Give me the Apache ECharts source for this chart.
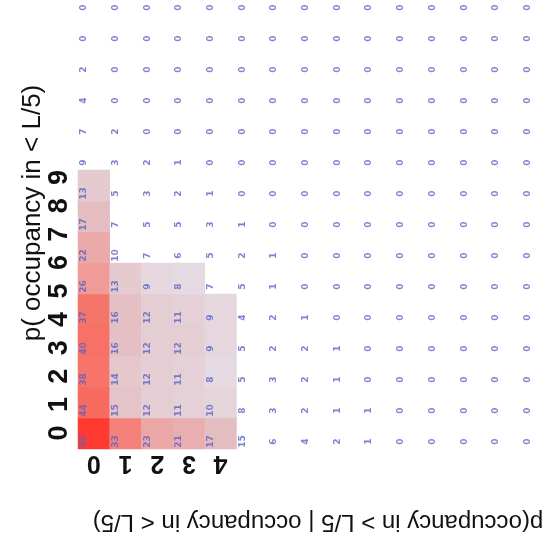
<!DOCTYPE html>
<html>
<head>
<meta charset="utf-8">
<script src="https://cdn.jsdelivr.net/npm/echarts@6/dist/echarts.min.js"></script>
<style>
  html, body { margin: 0; padding: 0; background: #fff; }
  #chart { width: 551px; height: 544px; }
</style>
</head>
<body>
<div id="chart"></div>
<script>
// columns / rows of the count grid (row 0 = bottom)
const colCats = ['0', '1', '2', '3', '4', '5', '6', '7', '8', '9', '10', '11', '12', '13', '14']
const rowCats = ['0', '1', '2', '3', '4', '5', '6', '7', '8', '9', '10', '11', '12', '13', '14']

// counts read row by row, bottom row first
const row0 = [55, 33, 23, 21, 17, 15, 6, 4, 2, 1, 0, 0, 0, 0, 0]
const row1 = [44, 15, 12, 11, 10, 8, 3, 2, 1, 1, 0, 0, 0, 0, 0]
const row2 = [38, 14, 12, 11, 8, 5, 3, 2, 1, 0, 0, 0, 0, 0, 0]
const row3 = [40, 16, 12, 12, 9, 5, 2, 2, 1, 0, 0, 0, 0, 0, 0]
const row4 = [37, 16, 12, 11, 9, 4, 2, 1, 0, 0, 0, 0, 0, 0, 0]
const row5 = [26, 13, 9, 8, 7, 5, 1, 0, 0, 0, 0, 0, 0, 0, 0]
const row6 = [22, 10, 7, 6, 5, 2, 1, 0, 0, 0, 0, 0, 0, 0, 0]
const row7 = [17, 7, 5, 5, 3, 1, 0, 0, 0, 0, 0, 0, 0, 0, 0]
const row8 = [13, 5, 3, 2, 1, 0, 0, 0, 0, 0, 0, 0, 0, 0, 0]
const row9 = [9, 3, 2, 1, 0, 0, 0, 0, 0, 0, 0, 0, 0, 0, 0]
const row10 = [7, 2, 0, 0, 0, 0, 0, 0, 0, 0, 0, 0, 0, 0, 0]
const row11 = [4, 0, 0, 0, 0, 0, 0, 0, 0, 0, 0, 0, 0, 0, 0]
const row12 = [2, 0, 0, 0, 0, 0, 0, 0, 0, 0, 0, 0, 0, 0, 0]
const row13 = [0, 0, 0, 0, 0, 0, 0, 0, 0, 0, 0, 0, 0, 0, 0]
const row14 = [0, 0, 0, 0, 0, 0, 0, 0, 0, 0, 0, 0, 0, 0, 0]
const rows = [row0, row1, row2, row3, row4, row5, row6, row7, row8, row9, row10, row11, row12, row13, row14]

// how many rows (from the bottom) are shaded in each of the first columns
const shadeDepth = [9, 6, 6, 6, 5]

const xTickLabels = ['0', '1', '2', '3', '4']
const yTickLabels = ['0', '1', '2', '3', '4', '5', '6', '7', '8', '9']

const xTitle = 'p(occupancy in > L/5 | occupancy in < L/5)'
const yTitle = 'p( occupancy in < L/5)'

const shadeData = []
const labelData = []
rows.forEach((r, ri) => {
  r.forEach((v, ci) => {
    labelData.push([ci, ri, v])
    if (ci < shadeDepth.length && ri < shadeDepth[ci]) shadeData.push([ci, ri, v])
  })
})

// y tick digits are a free-standing string beside the grid
const yTickGraphics = yTickLabels.map((t, i) => ({
  type: 'text',
  x: 60,
  y: 433 - i * 28.4,
  rotation: Math.PI / 2,
  style: {
    text: t,
    font: 'bold 27px "Liberation Sans", Arial, sans-serif',
    fill: '#111',
    align: 'center',
    verticalAlign: 'middle',
  },
}))

const chart = echarts.init(document.getElementById('chart'))
chart.setOption({
  backgroundColor: '#fff',
  animation: false,
  grid: { left: 78, top: -16, width: 475.5, height: 465, outerBoundsMode: 'none', containLabel: false },
  xAxis: {
    type: 'category',
    data: colCats,
    axisLine: { show: false },
    axisTick: { show: false },
    splitLine: { show: false },
    axisLabel: {
      interval: 0,
      rotate: 180,
      margin: 1,
      color: '#111',
      fontSize: 25,
      fontWeight: 'bold',
      fontFamily: 'Liberation Sans',
      formatter: (v, i) => xTickLabels[i] ?? '',
    },
  },
  yAxis: {
    type: 'category',
    data: rowCats,
    axisLine: { show: false },
    axisTick: { show: false },
    splitLine: { show: false },
    axisLabel: { show: false },
  },
  visualMap: {
    show: false,
    seriesIndex: 0,
    min: 8,
    max: 55,
    inRange: { color: ['#e6dae2', '#e4bcc0', '#f09894', '#f6766c', '#f86a5c', '#ff3a30'] },
  },
  series: [
    {
      type: 'heatmap',
      data: shadeData,
      itemStyle: { borderWidth: 0 },
      emphasis: { disabled: true },
    },
    {
      type: 'scatter',
      data: labelData,
      symbolSize: 1,
      itemStyle: { color: 'rgba(0,0,0,0)' },
      label: {
        show: true,
        position: 'inside',
        rotate: 90,
        color: '#5a62c8',
        fontSize: 9,
        fontWeight: 'bold',
        fontFamily: 'DejaVu Sans',
        formatter: (p) => String(p.value[2]),
      },
      // offsets are applied in the label's rotated frame
      labelLayout: { dx: -8, dy: -10, hideOverlap: false },
      emphasis: { disabled: true },
    },
  ],
  graphic: [
    {
      type: 'text',
      x: 33,
      y: 213,
      rotation: Math.PI / 2,
      style: {
        text: yTitle,
        font: '26px "Liberation Sans", Arial, sans-serif',
        fill: '#111',
        align: 'center',
        verticalAlign: 'middle',
      },
    },
    {
      type: 'text',
      x: 318,
      y: 522,
      rotation: Math.PI,
      style: {
        text: xTitle,
        font: '24px "Liberation Sans", Arial, sans-serif',
        fill: '#111',
        align: 'center',
        verticalAlign: 'middle',
      },
    },
    ...yTickGraphics,
  ],
})
</script>
</body>
</html>
